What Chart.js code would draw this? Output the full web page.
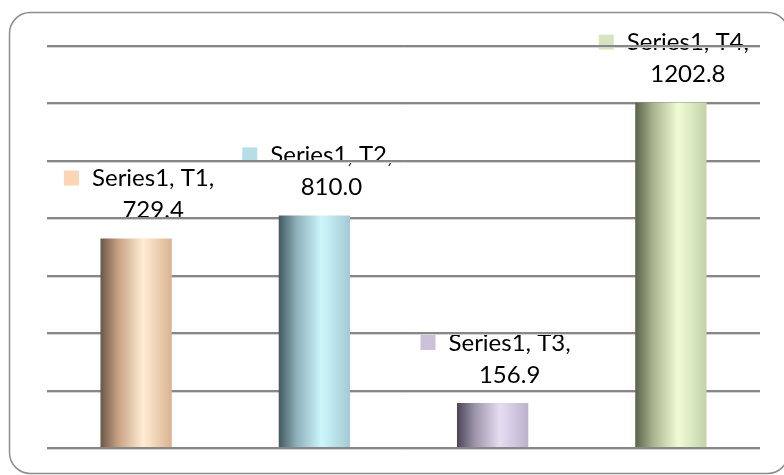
<!DOCTYPE html>
<html>
<head>
<meta charset="utf-8">
<title>Series1</title>
<script src="https://cdn.jsdelivr.net/npm/chart.js@4/dist/chart.umd.min.js"></script>
<style>
  html, body { margin: 0; padding: 0; background: #fff; }
  #wrap { width: 784px; height: 475px; position: relative; }
</style>
</head>
<body>
<div id="wrap"><canvas id="myChart"></canvas></div>
<script>
(function () {
  "use strict";

  var seriesName = "Series1";
  var categories = ["T1", "T2", "T3", "T4"];
  var values = [729.4, 810.0, 156.9, 1202.8];
  var yTicks = [0, 200, 400, 600, 800, 1000, 1200, 1400];

  // cylinder shading per bar: left shadow, quarter, highlight, right edge
  var shades = [
    ["#6b5647", "#c9a285", "#ffedd2", "#dab293"],
    ["#44585f", "#8db0ba", "#cdf6fc", "#a4c9d4"],
    ["#4a4556", "#9d94aa", "#e6ddf3", "#bcb2cb"],
    ["#59634a", "#a8b48f", "#effcd4", "#c4d2a9"]
  ];
  // legend key colours next to each label
  var keyColors = ["#fcd5b4", "#b7dde8", "#ccc1da", "#d7e4bd"];

  var BAR_PCT = 0.4;
  var FONT = "24px Lato";

  function barGradient(ctx) {
    var chart = ctx.chart;
    var x = chart.scales.x;
    var i = ctx.dataIndex;
    if (!x || i === undefined) return keyColors[0];
    var cx = x.getPixelForValue(i);
    var half = (x.width / categories.length) * BAR_PCT / 2;
    if (!isFinite(cx) || !isFinite(half)) return keyColors[i];
    var g = chart.ctx.createLinearGradient(cx - half, 0, cx + half, 0);
    var s = shades[i];
    g.addColorStop(0, s[0]);
    g.addColorStop(0.25, s[1]);
    g.addColorStop(0.6, s[2]);
    g.addColorStop(1, s[3]);
    return g;
  }

  // rounded frame and the "Series1, Tn, value" labels, painted under grid and bars
  var framePlugin = {
    id: "frameAndLabels",
    beforeDraw: function (chart) {
      var c = chart.ctx;
      c.save();
      c.strokeStyle = "#8c8c8c";
      c.lineWidth = 1.5;
      c.beginPath();
      c.roundRect(9.5, 12.5, 779, 461, 21);
      c.stroke();

      var meta = chart.getDatasetMeta(0);
      c.font = FONT;
      c.textBaseline = "middle";
      meta.data.forEach(function (bar, i) {
        var line1 = seriesName + ", " + categories[i] + ",";
        var line2 = values[i].toFixed(1);
        var w1 = c.measureText(line1).width;
        var blockW = 15 + 13 + w1;
        var left = bar.x + 3 - blockW / 2;
        var y1 = bar.y - 60;
        var y2 = bar.y - 28;
        c.fillStyle = keyColors[i];
        c.fillRect(left, y1 - 8, 15, 15);
        c.fillStyle = "#000";
        c.textAlign = "left";
        c.fillText(line1, left + 28, y1);
        c.textAlign = "center";
        c.fillText(line2, left + 28 + w1 / 2, y2);
      });
      c.restore();
    },
    // soft light line under each gridline
    beforeDatasetsDraw: function (chart) {
      var c = chart.ctx;
      var y = chart.scales.y;
      var area = chart.chartArea;
      c.save();
      c.strokeStyle = "#d4d4d4";
      c.lineWidth = 1;
      yTicks.forEach(function (v) {
        var py = Math.round(y.getPixelForValue(v)) + 1.5;
        c.beginPath();
        c.moveTo(area.left, py);
        c.lineTo(area.right, py);
        c.stroke();
      });
      c.restore();
    }
  };

  var ctx = document.getElementById("myChart").getContext("2d");
  var chart = new Chart(ctx, {
    type: "bar",
    data: {
      labels: categories,
      datasets: [
        {
          label: seriesName,
          data: values,
          backgroundColor: barGradient,
          borderWidth: 0,
          barPercentage: BAR_PCT,
          categoryPercentage: 1
        }
      ]
    },
    options: {
      responsive: true,
      maintainAspectRatio: false,
      animation: false,
      layout: { padding: { left: 47, right: 24, top: 46, bottom: 27 } },
      plugins: {
        legend: { display: false },
        tooltip: { enabled: false }
      },
      scales: {
        x: { display: false },
        y: {
          min: yTicks[0],
          max: yTicks[yTicks.length - 1],
          afterBuildTicks: function (axis) {
            axis.ticks = yTicks.map(function (v) { return { value: v }; });
          },
          ticks: { display: false },
          border: { display: false },
          grid: { color: "#878787", lineWidth: 2, drawTicks: false }
        }
      }
    },
    plugins: [framePlugin]
  });
})();
</script>
</body>
</html>
